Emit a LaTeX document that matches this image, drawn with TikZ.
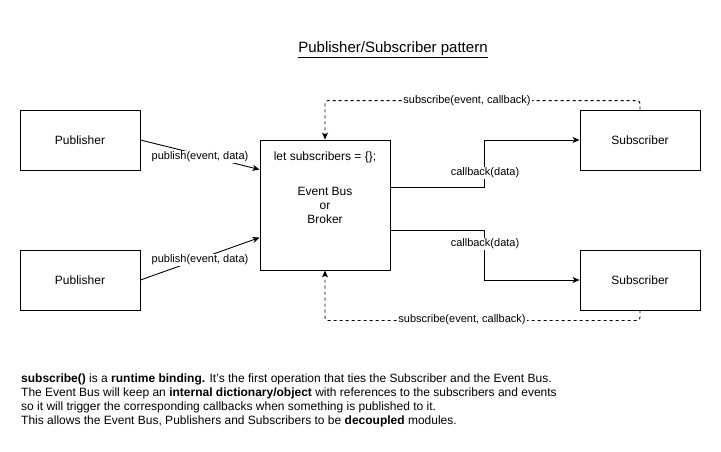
\documentclass[tikz,border=0pt]{standalone}
\usepackage{fontspec}
\setmainfont{Liberation Sans}
\usetikzlibrary{arrows.meta,positioning,calc}

\begin{document}
\begin{tikzpicture}[x=1pt, y=-1pt,
  block/.style={draw, line width=0.9pt, minimum width=120pt, minimum height=60pt,
    inner sep=0pt, font=\fontsize{12}{14}\selectfont},
  arr/.style={line width=0.9pt, -{Stealth[length=7pt, width=6pt, inset=2pt]}},
  subarr/.style={arr, dash pattern=on 3pt off 3pt, rounded corners=3pt},
  lbl/.style={fill=white, inner sep=1pt, font=\fontsize{11}{13}\selectfont}]
\useasboundingbox[fill=white] (0,0) rectangle (721,451);
% title
\node[font=\fontsize{15}{17}\selectfont] (title) at (393,50)
  {\underline{Publisher/Subscriber pattern}};
% publishers and subscribers
\node[block] (pub1) at (80,140) {Publisher};
\node[block] (pub2) at (80,280) {Publisher};
\node[block] (sub1) at (640,140) {Subscriber};
\node[block] (sub2) at (640,280) {Subscriber};
% event bus
\node[block, minimum width=130pt, minimum height=130pt] (bus) at (325,205) {};
\node[font=\fontsize{12}{14}\selectfont] (busvar) at (325,157)
  {let subscribers = \{\};};
\node[font=\fontsize{12}{14}\selectfont, align=center] (busname) at (325,205)
  {Event Bus\\or\\Broker};
% publish
\draw[arr] (pub1.east) -- ($(bus.north west)+(0,30)$)
  node[lbl, midway, yshift=-2pt] {publish(event, data)};
\draw[arr] (pub2.east) -- ($(bus.north west)+(0,98)$)
  node[lbl, midway, yshift=-1pt] {publish(event, data)};
% callbacks
\draw[arr] ($(bus.north east)+(0,48)$) -| ($(sub1.west)+(-95,0)$) -- (sub1.west);
\node[lbl] (cb1) at (485,173) {callback(data)};
\draw[arr] ($(bus.north east)+(0,91)$) -| ($(sub2.west)+(-95,0)$) -- (sub2.west);
\node[lbl] (cb2) at (485,244) {callback(data)};
% subscribe
\draw[subarr] (sub1.north) -- ++(0,-9) -| (bus.north);
\node[lbl] (subs1) at (467,101) {subscribe(event, callback)};
\draw[subarr] (sub2.south) -- ++(0,10) -| (bus.south);
\node[lbl] (subs2) at (462,320) {subscribe(event, callback)};
% notes
\node[anchor=north west, inner sep=0pt, align=left,
  font=\fontsize{12}{14}\selectfont] (notes) at (21,374)
  {\textbf{subscribe()} is a \textbf{runtime binding.} It's the first operation that ties the Subscriber and the Event Bus.\\
  The Event Bus will keep an \textbf{internal dictionary/object} with references to the subscribers and events\\
  so it will trigger the corresponding callbacks when something is published to it.\\
  This allows the Event Bus, Publishers and Subscribers to be \textbf{decoupled} modules.};
\end{tikzpicture}
\end{document}
